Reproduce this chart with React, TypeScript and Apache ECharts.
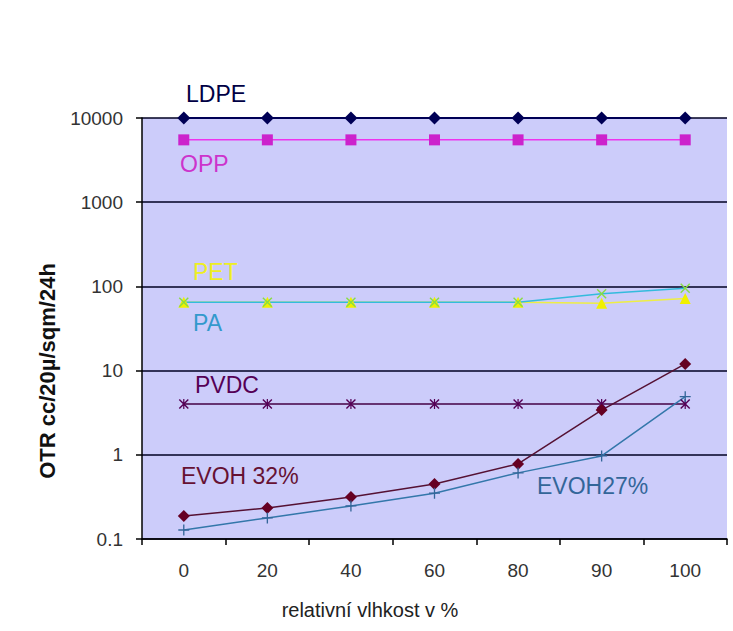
import React, { useEffect, useRef } from "react";
import * as echarts from "echarts";

const categories = ["0", "20", "40", "60", "80", "90", "100"];
const ldpe = [10000, 10000, 10000, 10000, 10000, 10000, 10000];
const opp = [5500, 5500, 5500, 5500, 5500, 5500, 5500];
const pet = [65, 65, 65, 65, 65, 63, 72];
const pa = [65, 65, 65, 65, 65, 82, 95];
const pvdc = [4, 4, 4, 4, 4, 4, 4];
const evoh32 = [0.188, 0.234, 0.316, 0.45, 0.78, 3.4, 12];
const evoh27 = [0.128, 0.178, 0.247, 0.35, 0.61, 0.97, 4.9];
const yTicks = [0.1, 1, 10, 100, 1000, 10000];

const FONT = "'Liberation Sans', Arial, sans-serif";

const X_SYMBOL = "path://M0,1L1,0L5,4L9,0L10,1L6,5L10,9L9,10L5,6L1,10L0,9L4,5Z";
const STAR_SYMBOL = "path://M0,1L1,0L5,4L9,0L10,1L6,5L10,9L9,10L5,6L1,10L0,9L4,5Z M4.4,0L5.6,0L5.6,10L4.4,10Z";
const PLUS_SYMBOL = "path://M4.4,0L5.6,0L5.6,10L4.4,10Z M0,4.4L10,4.4L10,5.6L0,5.6Z";

export default function App() {
  const ref = useRef<HTMLDivElement>(null);
  useEffect(() => {
    if (!ref.current) return;
    const chart = echarts.init(ref.current, undefined, { renderer: "svg" });
    const mk = (name: string, data: number[], color: string, symbol: string, size: number, lineColor?: string, width = 1.5) => ({
      name,
      type: "line",
      data,
      symbol,
      symbolSize: size,
      itemStyle: { color },
      lineStyle: { color: lineColor || color, width },
      z: 3,
    });
    const label = (text: string, x: number, y: number, color: string) => ({
      type: "text",
      x,
      y,
      z: 10,
      style: { text, fill: color, font: `23px ${FONT}`, textVerticalAlign: "middle" },
    });
    chart.setOption({
      animation: false,
      backgroundColor: "#ffffff",
      grid: {
        left: 142,
        top: 118,
        right: 6,
        bottom: 92,
        show: true,
        backgroundColor: "#ccccfa",
        borderWidth: 0,
      },
      xAxis: {
        type: "category",
        data: categories,
        boundaryGap: true,
        axisLine: { lineStyle: { color: "#000000", width: 1.5 } },
        axisTick: { show: true, length: 6, lineStyle: { color: "#000000", width: 1.5 } },
        axisLabel: { margin: 22, fontSize: 19, color: "#333", fontFamily: FONT },
        splitLine: { show: false },
      },
      yAxis: {
        type: "log",
        logBase: 10,
        min: yTicks[0],
        max: yTicks[yTicks.length - 1],
        axisLine: { show: true, lineStyle: { color: "#000000", width: 1.5 } },
        axisTick: { show: true, length: 6, lineStyle: { color: "#000000", width: 1.5 } },
        axisLabel: { margin: 19, fontSize: 19, color: "#333", fontFamily: FONT, formatter: (v: number) => String(v) },
        splitLine: { show: true, lineStyle: { color: "#000022", width: 1.5 } },
        minorTick: { show: false },
      },
      series: [
        mk("LDPE", ldpe, "#000055", "diamond", 13, "#000055", 2),
        mk("OPP", opp, "#cc22cc", "rect", 11, "#ee33ee", 1.5),
        mk("PET", pet, "#f0f000", "triangle", 11, "#eeee44", 1.5),
        mk("PA", pa, "#88dd44", X_SYMBOL, 10, "#33bbdd", 1.5),
        mk("PVDC", pvdc, "#550055", STAR_SYMBOL, 10, "#440044", 1.5),
        mk("EVOH 32%", evoh32, "#660022", "diamond", 12, "#551133", 1.5),
        mk("EVOH27%", evoh27, "#336699", PLUS_SYMBOL, 11, "#3377aa", 1.5),
      ],
      graphic: [
        label("LDPE", 186, 94, "#000044"),
        label("OPP", 180, 164, "#cc33cc"),
        label("PET", 193, 272, "#eeee22"),
        label("PA", 193, 323, "#3399cc"),
        label("PVDC", 195, 385, "#550055"),
        label("EVOH 32%", 181, 476, "#661133"),
        label("EVOH27%", 537, 486, "#336699"),
        {
          type: "text",
          x: 47,
          y: 371,
          rotation: Math.PI / 2,
          style: {
            text: "OTR cc/20µ/sqm/24h",
            fill: "#111",
            font: `bold 22px ${FONT}`,
            textAlign: "center",
            textVerticalAlign: "middle",
          },
        },
        {
          type: "text",
          x: 370,
          y: 610,
          style: {
            text: "relativní vlhkost v %",
            fill: "#222",
            font: `20px ${FONT}`,
            textAlign: "center",
            textVerticalAlign: "middle",
          },
        },
      ],
    });
    return () => chart.dispose();
  }, []);
  return <div ref={ref} style={{ position: "fixed", left: 0, top: 0, width: 733, height: 631 }} />;
}
